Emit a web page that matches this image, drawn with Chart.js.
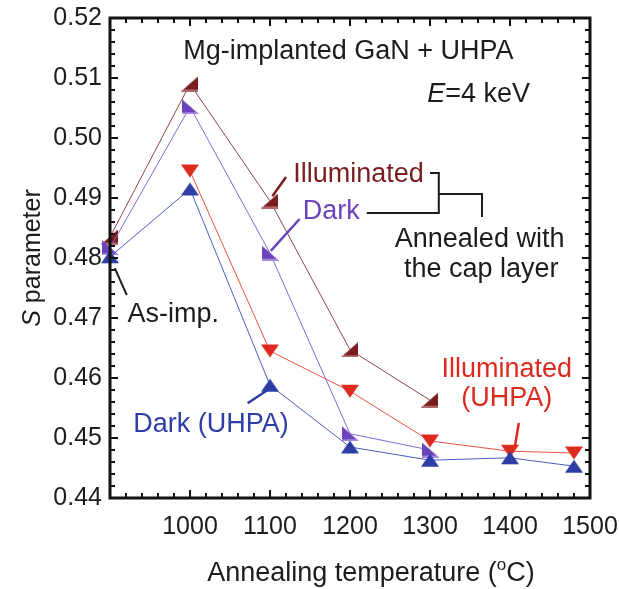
<!DOCTYPE html>
<html><head><meta charset="utf-8">
<script src="https://cdn.jsdelivr.net/npm/chart.js@4.4.1/dist/chart.umd.min.js"></script>
<style>html,body{margin:0;padding:0;background:#fff;}#wrap{width:619px;height:589px;position:relative;}</style>
</head><body><div id="wrap"><canvas id="c" width="619" height="589"></canvas></div>
<script>
// ---- data ----
const temps = [900, 1000, 1100, 1200, 1300, 1400, 1480];
const illuminated     = [0.4835, 0.5090, 0.4895, 0.4647, 0.4563, null,   null];
const dark            = [0.4817, 0.5052, 0.4808, 0.4507, 0.4480, null,   null];
const illuminatedUHPA = [null,   0.4945, 0.4645, 0.4578, 0.4495, 0.4478, 0.4475];
const darkUHPA        = [0.4802, 0.4915, 0.4588, 0.4485, 0.4463, 0.4467, 0.4453];
const xTickLabels = ['1000', '1100', '1200', '1300', '1400', '1500'];
const yTickLabels = ['0.44', '0.45', '0.46', '0.47', '0.48', '0.49', '0.50', '0.51', '0.52'];

// ---- styles ----
const FONT = "'Liberation Sans', Arial, sans-serif";
const C = {
  brown: '#7a1d1f', brownLine: '#8e4446',
  purple: '#6b43bd', purpleLine: '#7d6ad6',
  red: '#dc2a1e', redLine: '#ea5246',
  blue: '#2f3ea6', blueLine: '#4a5cc4',
  ink: '#1c1c1c'
};

function marker(kind, fill, light) {
  const w = 18, h = 15;
  const cv = document.createElement('canvas');
  cv.width = w; cv.height = h;
  const g = cv.getContext('2d');
  g.fillStyle = fill;
  g.beginPath();
  if (kind === 'up') { g.moveTo(w / 2, 1); g.lineTo(w, h - 1); g.lineTo(0, h - 1); }
  else if (kind === 'down') { g.moveTo(0, 1); g.lineTo(w, 1); g.lineTo(w / 2, h - 1); }
  else if (kind === 'rightAngleR') { g.moveTo(w - 1, 0); g.lineTo(w - 1, h); g.lineTo(0, h); }
  else { g.moveTo(1, 0); g.lineTo(1, h); g.lineTo(w, h); }
  g.closePath(); g.fill();
  if (light && (kind === 'rightAngleR' || kind === 'rightAngleL')) {
    g.fillStyle = light;
    g.beginPath();
    if (kind === 'rightAngleR') { g.moveTo(2, h - 2); g.lineTo(w - 1, h - 2); g.lineTo(w - 1, h); g.lineTo(0, h); }
    else { g.moveTo(1, h - 2); g.lineTo(w - 3, h - 2); g.lineTo(w, h); g.lineTo(1, h); }
    g.closePath(); g.fill();
  }
  return cv;
}

function pts(vals) {
  const out = [];
  temps.forEach((t, i) => { if (vals[i] !== null) out.push({ x: t, y: vals[i] }); });
  return out;
}

// annotations in data coordinates
const texts = [
  { t: [{ s: 'Mg-implanted GaN + UHPA' }], x: 1198, y: 0.5132, align: 'center', color: C.ink },
  { t: [{ s: 'E', it: true }, { s: '=4 keV' }], x: 1425, y: 0.5060, align: 'right', color: C.ink },
  { t: [{ s: 'Illuminated' }], x: 1129, y: 0.4927, align: 'left', color: C.brown },
  { t: [{ s: 'Dark' }], x: 1141, y: 0.4865, align: 'left', color: C.purple },
  { t: [{ s: 'Annealed with' }], x: 1362, y: 0.4818, align: 'center', color: C.ink },
  { t: [{ s: 'the cap layer' }], x: 1364, y: 0.4768, align: 'center', color: C.ink },
  { t: [{ s: 'As-imp.' }], x: 922, y: 0.4693, align: 'left', color: C.ink },
  { t: [{ s: 'Dark (UHPA)' }], x: 929, y: 0.4510, align: 'left', color: C.blue },
  { t: [{ s: 'Illuminated' }], x: 1396, y: 0.4602, align: 'center', color: C.red },
  { t: [{ s: '(UHPA)' }], x: 1396, y: 0.4553, align: 'center', color: C.red }
];
const leaders = [
  { p: [[1120, 0.4935], [1103, 0.4903]], color: C.brown, w: 2.5 },
  { p: [[1137, 0.4865], [1101, 0.4812]], color: C.purple, w: 2.5 },
  { p: [[1300, 0.49417], [1311, 0.49417], [1311, 0.4875], [1221, 0.4875]], color: C.ink, w: 2 },
  { p: [[1311, 0.49067], [1365, 0.49067], [1365, 0.48683]], color: C.ink, w: 2 },
  { p: [[906, 0.4783], [921, 0.4738]], color: C.ink, w: 2 },
  { p: [[1072, 0.4558], [1097, 0.4580]], color: C.blue, w: 2.5 },
  { p: [[1411, 0.4525], [1406, 0.4485]], color: C.red, w: 2.5 }
];

function drawParts(ctx, parts, x, y, align, size) {
  const fonts = parts.map(p => (p.it ? 'italic ' : '') + size + 'px ' + FONT);
  let total = 0;
  const ws = parts.map((p, i) => { ctx.font = fonts[i]; const w = ctx.measureText(p.s).width; total += w; return w; });
  let cx = align === 'center' ? x - total / 2 : align === 'right' ? x - total : x;
  ctx.textAlign = 'left';
  parts.forEach((p, i) => { ctx.font = fonts[i]; ctx.fillText(p.s, cx, y); cx += ws[i]; });
}

const decor = {
  id: 'decor',
  afterDatasetsDraw(chart) {
    const { ctx, chartArea: a, scales: { x, y } } = chart;
    ctx.save();
    // inward ticks
    ctx.strokeStyle = '#111'; ctx.lineWidth = 2;
    for (let t = 900; t <= 1500; t += 20) {
      const px = Math.round(x.getPixelForValue(t));
      const L = (t % 100 === 0) ? 8 : 5;
      ctx.beginPath(); ctx.moveTo(px, a.bottom); ctx.lineTo(px, a.bottom - L);
      ctx.moveTo(px, a.top); ctx.lineTo(px, a.top + L); ctx.stroke();
    }
    for (let k = 0; k <= 40; k++) {
      const v = 0.44 + k * 0.002;
      const py = Math.round(y.getPixelForValue(v));
      const L = (k % 5 === 0) ? 8 : 5;
      ctx.beginPath(); ctx.moveTo(a.left, py); ctx.lineTo(a.left + L, py);
      ctx.moveTo(a.right, py); ctx.lineTo(a.right - L, py); ctx.stroke();
    }
    // frame
    ctx.lineWidth = 3; ctx.strokeStyle = '#111';
    ctx.strokeRect(a.left, a.top, a.right - a.left, a.bottom - a.top);
    // leaders
    leaders.forEach(l => {
      ctx.strokeStyle = l.color; ctx.lineWidth = l.w; ctx.lineCap = 'butt';
      ctx.beginPath();
      l.p.forEach((q, i) => {
        const px = x.getPixelForValue(q[0]), py = y.getPixelForValue(q[1]);
        if (i === 0) ctx.moveTo(px, py); else ctx.lineTo(px, py);
      });
      ctx.stroke();
    });
    // texts
    ctx.textBaseline = 'alphabetic';
    texts.forEach(o => {
      ctx.fillStyle = o.color;
      drawParts(ctx, o.t, x.getPixelForValue(o.x), y.getPixelForValue(o.y), o.align, 27);
    });
    // axis titles
    ctx.fillStyle = C.ink;
    const xt = [{ s: 'Annealing temperature (' }, { s: 'o', sup: true }, { s: 'C)' }];
    ctx.font = '27px ' + FONT;
    const w1 = ctx.measureText(xt[0].s).width, w3 = ctx.measureText(xt[2].s).width;
    ctx.font = '17px ' + FONT;
    const w2 = ctx.measureText('o').width;
    let sx = 371 - (w1 + w2 + w3) / 2;
    const by = 581;
    ctx.font = '27px ' + FONT; ctx.fillText(xt[0].s, sx, by); sx += w1;
    ctx.font = '17px ' + FONT; ctx.fillText('o', sx, by - 11); sx += w2;
    ctx.font = '27px ' + FONT; ctx.fillText(xt[2].s, sx, by);
    ctx.save();
    ctx.translate(40, (a.top + a.bottom) / 2);
    ctx.rotate(-Math.PI / 2);
    drawParts(ctx, [{ s: 'S', it: true }, { s: ' parameter' }], 0, 0, 'center', 25);
    ctx.restore();
    ctx.restore();
  }
};

const ds = (label, vals, kind, fill, light, line) => ({
  label, data: pts(vals),
  borderColor: line, borderWidth: 1,
  pointStyle: marker(kind, fill, light),
  pointRadius: 8, pointHoverRadius: 8,
  backgroundColor: fill, clip: false, tension: 0
});

new Chart(document.getElementById('c'), {
  type: 'line',
  data: {
    datasets: [
      ds('Dark (UHPA)', darkUHPA, 'up', C.blue, null, C.blueLine),
      ds('Illuminated (UHPA)', illuminatedUHPA, 'down', C.red, null, C.redLine),
      ds('Dark', dark, 'rightAngleL', C.purple, '#a48ae0', C.purpleLine),
      ds('Illuminated', illuminated, 'rightAngleR', C.brown, '#b06a6c', C.brownLine)
    ]
  },
  options: {
    responsive: false, animation: false,
    layout: { padding: { top: 18, right: 29, left: 0, bottom: 0 } },
    plugins: { legend: { display: false }, tooltip: { enabled: false } },
    scales: {
      x: {
        type: 'linear', min: 900, max: 1500,
        grid: { display: false, drawTicks: false }, border: { display: false },
        ticks: {
          stepSize: 100, padding: 14, color: C.ink, font: { size: 25, family: FONT },
          maxRotation: 0, autoSkip: false,
          callback: v => { const s = String(Math.round(v)); return xTickLabels.includes(s) ? s : ''; }
        },
        afterFit: s => { s.height = 91; s.paddingLeft = 0; s.paddingRight = 0; }
      },
      y: {
        min: 0.44, max: 0.52,
        grid: { display: false, drawTicks: false }, border: { display: false },
        ticks: {
          stepSize: 0.01, padding: 8, color: C.ink, font: { size: 25, family: FONT },
          autoSkip: false,
          callback: v => { const s = Number(v).toFixed(2); return yTickLabels.includes(s) ? s : ''; }
        },
        afterFit: s => { s.width = 110; s.paddingTop = 0; s.paddingBottom = 0; }
      }
    }
  },
  plugins: [decor]
});
</script></body></html>
